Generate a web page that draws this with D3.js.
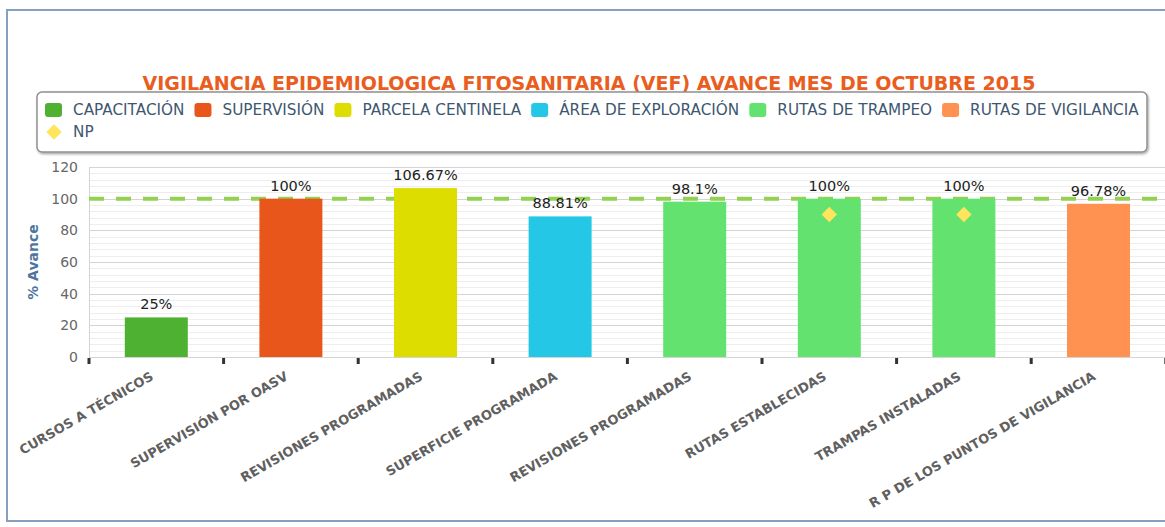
<!DOCTYPE html>
<html>
<head>
<meta charset="utf-8">
<script src="https://cdn.jsdelivr.net/npm/d3@7"></script>
<style>
  html, body { margin: 0; padding: 0; background: #ffffff; }
  svg { display: block; }
</style>
</head>
<body>
<svg id="chart" width="1165" height="527"></svg>
<script>
// ---------- DATA ----------
const titleText = "VIGILANCIA EPIDEMIOLOGICA FITOSANITARIA (VEF) AVANCE MES DE OCTUBRE 2015";
const yAxisTitle = "% Avance";
const categories = [
  "CURSOS A TÉCNICOS",
  "SUPERVISIÓN POR OASV",
  "REVISIONES PROGRAMADAS",
  "SUPERFICIE PROGRAMADA",
  "REVISIONES PROGRAMADAS ",
  "RUTAS ESTABLECIDAS",
  "TRAMPAS INSTALADAS",
  "R P DE LOS PUNTOS DE VIGILANCIA"
];
const seriesNames = ["CAPACITACIÓN", "SUPERVISIÓN", "PARCELA CENTINELA", "ÁREA DE EXPLORACIÓN", "RUTAS DE TRAMPEO", "RUTAS DE VIGILANCIA", "NP"];
const values = [25, 100, 106.67, 88.81, 98.1, 100, 100, 96.78];
const valueLabels = ["25%", "100%", "106.67%", "88.81%", "98.1%", "100%", "100%", "96.78%"];
const pointSeries = [0, 1, 2, 3, 4, 4, 4, 5];
const npValues = [null, null, null, null, null, 90, 90, null];
const targetValue = 100;
const yTicks = [0, 20, 40, 60, 80, 100, 120];

// ---------- STYLE ----------
const palette = ["#4fb132", "#e9561c", "#dddd00", "#24c8e6", "#63e26f", "#ff9151", "#ffe45c"];
const W = 1165, H = 527;
const plot = { left: 89, top: 167, bottom: 357, step: 134.6 };
const FONT = "DejaVu Sans, Verdana, sans-serif";

const svg = d3.select("#chart");
const defs = svg.append("defs");
const sh = defs.append("filter").attr("id", "shadow").attr("x", "-5%").attr("y", "-20%").attr("width", "110%").attr("height", "150%");
sh.append("feDropShadow").attr("dx", 1).attr("dy", 1.5).attr("stdDeviation", 1.3).attr("flood-color", "#000").attr("flood-opacity", 0.35);
defs.append("clipPath").attr("id", "frameClip").append("rect").attr("x", 8).attr("y", 11).attr("width", W).attr("height", 509);

svg.append("rect").attr("width", W).attr("height", H).attr("fill", "#fff");

// scales
const x = d3.scaleBand().domain(d3.range(categories.length))
  .range([plot.left, plot.left + plot.step * categories.length]).padding(0);
const y = d3.scaleLinear().domain([0, 120]).range([plot.bottom, plot.top]);
const barW = x.bandwidth() * 0.468;

const g = svg.append("g").attr("clip-path", "url(#frameClip)");

// minor grid
const minor = d3.range(0, 121, 4).filter(v => v % 20 !== 0);
g.append("g").selectAll("line").data(minor).join("line")
  .attr("x1", plot.left).attr("x2", W)
  .attr("y1", d => Math.round(y(d)) + 0.5).attr("y2", d => Math.round(y(d)) + 0.5)
  .attr("stroke", "#eeeeee").attr("stroke-width", 1);
// major grid
g.append("g").selectAll("line").data(yTicks).join("line")
  .attr("x1", plot.left).attr("x2", W)
  .attr("y1", d => Math.round(y(d)) + 0.5).attr("y2", d => Math.round(y(d)) + 0.5)
  .attr("stroke", "#d4d4d4").attr("stroke-width", 1);
// left axis line
g.append("line").attr("x1", plot.left + 0.5).attr("x2", plot.left + 0.5)
  .attr("y1", plot.top).attr("y2", plot.bottom).attr("stroke", "#d4d4d4");

// target dashed line
g.append("line")
  .attr("x1", plot.left).attr("x2", W)
  .attr("y1", y(targetValue)).attr("y2", y(targetValue))
  .attr("stroke", "#93d152").attr("stroke-width", 4).attr("stroke-dasharray", "15,12");

// bars
g.append("g").selectAll("rect").data(values).join("rect")
  .attr("x", (d, i) => x(i) + (x.bandwidth() - barW) / 2)
  .attr("width", barW)
  .attr("y", d => y(d))
  .attr("height", d => y(0) - y(d))
  .attr("fill", (d, i) => palette[pointSeries[i]]);

// data labels
g.append("g").selectAll("text").data(values).join("text")
  .attr("x", (d, i) => x(i) + x.bandwidth() / 2)
  .attr("y", d => y(d) - 8)
  .attr("text-anchor", "middle")
  .attr("font-family", FONT)
  .attr("font-size", "14.5px")
  .attr("fill", "#222")
  .text((d, i) => valueLabels[i]);

// NP markers
const sym = d3.symbol().type(d3.symbolDiamond2).size(150);
g.append("g").selectAll("path").data(npValues.map((v, i) => ({ v, i })).filter(d => d.v !== null)).join("path")
  .attr("transform", d => `translate(${x(d.i) + x.bandwidth() / 2},${y(d.v)})`)
  .attr("d", sym)
  .attr("fill", palette[6]);

// ticks
g.append("g").selectAll("rect").data(d3.range(categories.length + 1)).join("rect")
  .attr("x", d => plot.left + d * x.step() - 1.5)
  .attr("y", plot.bottom + 1)
  .attr("width", 3).attr("height", 6)
  .attr("fill", "#333");

// x labels
g.append("g").selectAll("text").data(categories).join("text")
  .attr("transform", (d, i) => `translate(${x(i) + x.bandwidth() / 2 - 2},${plot.bottom + 22}) rotate(-30)`)
  .attr("text-anchor", "end")
  .attr("font-family", FONT)
  .attr("font-weight", "bold")
  .attr("font-size", "13px")
  .attr("fill", "#606060")
  .text(d => d.trim());

// y tick labels
svg.append("g").selectAll("text").data(yTicks).join("text")
  .attr("x", 78).attr("y", d => y(d)).attr("dy", "0.36em")
  .attr("text-anchor", "end")
  .attr("font-family", FONT)
  .attr("font-size", "14px")
  .attr("fill", "#666")
  .text(d => d);

// y axis title
svg.append("text")
  .attr("transform", `translate(38,262) rotate(-90)`)
  .attr("text-anchor", "middle")
  .attr("font-family", FONT)
  .attr("font-weight", "bold")
  .attr("font-size", "14px")
  .attr("fill", "#4d759e")
  .text(yAxisTitle);

// frame
svg.append("rect").attr("x", 7).attr("y", 10).attr("width", W + 20).attr("height", 511)
  .attr("fill", "none").attr("stroke", "#88a0bf").attr("stroke-width", 2);

// title
svg.append("text")
  .attr("x", 589).attr("y", 90)
  .attr("text-anchor", "middle")
  .attr("font-family", FONT)
  .attr("font-weight", "bold")
  .attr("font-size", "19px")
  .attr("fill", "#e95d1e")
  .text(titleText);

// legend
const lg = svg.append("g");
lg.append("rect").attr("x", 37).attr("y", 92).attr("width", 1110).attr("height", 60)
  .attr("rx", 5).attr("fill", "#fff").attr("stroke", "#909090").attr("stroke-width", 1.5)
  .attr("filter", "url(#shadow)");

let cx = 45;
const rowY = [110, 132];
seriesNames.forEach((name, i) => {
  const row = i < 6 ? 0 : 1;
  if (i === 6) cx = 45;
  const cy = rowY[row];
  if (i < 6) {
    lg.append("rect").attr("x", cx).attr("y", cy - 7).attr("width", 17).attr("height", 14)
      .attr("rx", 3).attr("fill", palette[i]);
  } else {
    lg.append("path").attr("transform", `translate(${cx + 9},${cy})`)
      .attr("d", d3.symbol().type(d3.symbolDiamond2).size(150)).attr("fill", palette[i]);
  }
  const t = lg.append("text").attr("x", cx + 28).attr("y", cy).attr("dy", "0.36em")
    .attr("font-family", FONT)
    .attr("font-size", "15.25px")
    .attr("fill", "#3e576f")
    .text(name);
  cx += 28 + t.node().getComputedTextLength() + 10;
});
</script>
</body>
</html>
